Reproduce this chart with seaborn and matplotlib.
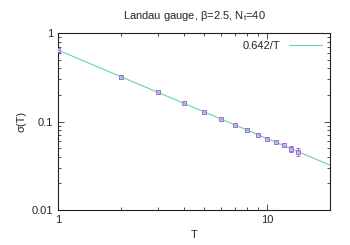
import numpy as np
import pandas as pd
import matplotlib
matplotlib.use("Agg")
import matplotlib.pyplot as plt
import seaborn as sns
from matplotlib.ticker import LogLocator, FixedLocator, NullFormatter

# data
T = [1, 2, 3, 4, 5, 6, 7, 8, 9, 10, 11, 12, 13, 14]
sigma = [0.640, 0.322, 0.213, 0.161, 0.128, 0.107, 0.0915, 0.080,
         0.0712, 0.0640, 0.0585, 0.0540, 0.0495, 0.0455]
sigma_err = [0.003, 0.002, 0.0015, 0.001, 0.001, 0.001, 0.001, 0.001,
             0.001, 0.0012, 0.002, 0.003, 0.004, 0.005]
fit_coef = 0.642
fit_T = [1, 20]

sns.set_style("ticks")
plt.rcParams['font.family'] = ['Liberation Sans', 'DejaVu Sans']
plt.rcParams['font.size'] = 8

fig = plt.figure(figsize=(3.5, 2.45), dpi=100)
ax = fig.add_axes([0.166, 0.143, 0.777, 0.722])

fit_df = pd.DataFrame({"T": np.geomspace(fit_T[0], fit_T[1], 50)})
fit_df["fit"] = fit_coef / fit_df["T"]
sns.lineplot(data=fit_df, x="T", y="fit", ax=ax, color="#40c8a0",
             linewidth=0.8, alpha=0.8, label="0.642/T", zorder=4)

ax.errorbar(T, sigma, yerr=sigma_err, fmt="s", ms=3.2, mfc="#e0c0f4",
            mec="#b060e0", mew=0.7, ecolor="#b060e0", elinewidth=0.7,
            capsize=1.5, capthick=0.7, zorder=3, label="_nolegend_")

ax.set_xscale("log")
ax.set_yscale("log")
ax.set_xlim(1, 20)
ax.set_ylim(0.01, 1)
ax.xaxis.set_major_locator(FixedLocator([1, 10]))
ax.set_xticklabels(["1", "10"])
ax.xaxis.set_minor_locator(LogLocator(base=10, subs=np.arange(2, 10)))
ax.xaxis.set_minor_formatter(NullFormatter())
ax.yaxis.set_major_locator(FixedLocator([0.01, 0.1, 1]))
ax.set_yticklabels(["0.01", "0.1", "1"])
ax.yaxis.set_minor_locator(LogLocator(base=10, subs=np.arange(2, 10)))
ax.yaxis.set_minor_formatter(NullFormatter())
ax.tick_params(which="both", direction="in", top=True, right=True,
               width=0.6, color="#333333", labelsize=8)
ax.tick_params(which="major", length=4)
ax.tick_params(which="minor", length=2)
for s in ax.spines.values():
    s.set_linewidth(0.8)
    s.set_color("#222222")

ax.set_xlabel("T", fontsize=8, labelpad=4)
ax.set_ylabel("σ(T)", fontsize=8)
ax.set_title("Landau gauge, β=2.5, N$_\\mathregular{t}$=40", fontsize=8, pad=10)
ax.legend(loc="upper right", frameon=False, markerfirst=False, fontsize=8,
          handlelength=3, borderaxespad=0.3)

fig.savefig("out.png", dpi=100)
